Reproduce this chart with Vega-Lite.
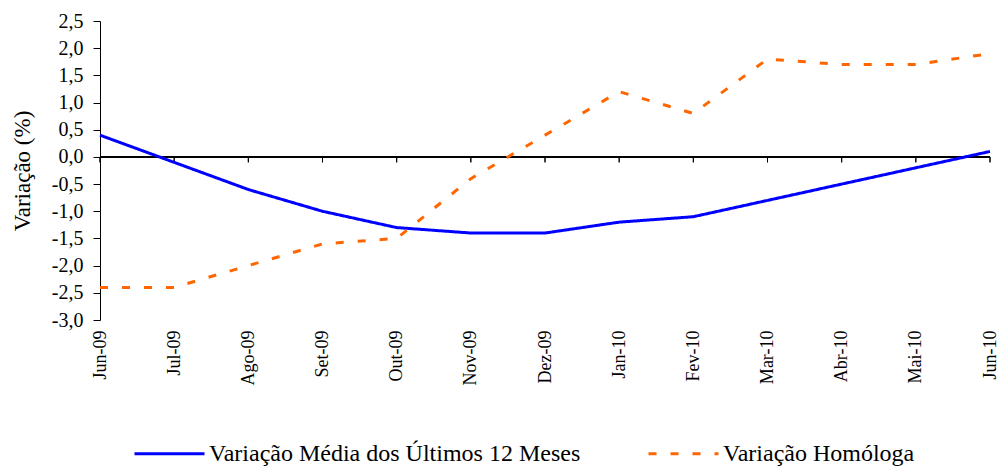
{
  "$schema": "https://vega.github.io/schema/vega-lite/v6.json",
  "width": 890,
  "height": 299,
  "autosize": {"type": "none"},
  "padding": {"left": 100, "top": 21, "right": 11, "bottom": 148},
  "background": "white",
  "config": {
    "font": "Liberation Serif",
    "view": {"stroke": null},
    "axisY": {
      "values": [-3, -2.5, -2, -1.5, -1, -0.5, 0, 0.5, 1, 1.5, 2, 2.5],
      "labelExpr": "replace(replace(format(datum.value, '.1f'), '.', ','), '\u2212', '-')",
      "grid": false,
      "domainColor": "black",
      "tickColor": "black",
      "tickSize": 7,
      "labelPadding": 10,
      "labelFont": "Liberation Serif",
      "labelFontSize": 20,
      "labelColor": "black",
      "titleFont": "Liberation Serif",
      "titleFontSize": 23,
      "titleFontWeight": "normal",
      "titleColor": "black",
      "titlePadding": 17
    },
    "axisX": {
      "domain": false,
      "ticks": false,
      "grid": false,
      "labelAngle": -90,
      "labelAlign": "right",
      "labelBaseline": "middle",
      "labelPadding": 10,
      "labelFont": "Liberation Serif",
      "labelFontSize": 18,
      "labelColor": "black",
      "title": null
    },
    "legend": {
      "orient": "none",
      "legendX": 33,
      "legendY": 396,
      "direction": "horizontal",
      "symbolType": "stroke",
      "symbolSize": 4900,
      "symbolStrokeWidth": 3,
      "labelFont": "Liberation Serif",
      "labelFontSize": 24,
      "labelColor": "black",
      "labelOffset": 3,
      "labelLimit": 500,
      "columnPadding": 61,
      "title": null
    }
  },
  "data": {
    "values": [
      {"mes": "Jun-09", "serie": "Variação Média dos Últimos 12 Meses", "valor": 0.4},
      {"mes": "Jul-09", "serie": "Variação Média dos Últimos 12 Meses", "valor": -0.1},
      {"mes": "Ago-09", "serie": "Variação Média dos Últimos 12 Meses", "valor": -0.6},
      {"mes": "Set-09", "serie": "Variação Média dos Últimos 12 Meses", "valor": -1.0},
      {"mes": "Out-09", "serie": "Variação Média dos Últimos 12 Meses", "valor": -1.3},
      {"mes": "Nov-09", "serie": "Variação Média dos Últimos 12 Meses", "valor": -1.4},
      {"mes": "Dez-09", "serie": "Variação Média dos Últimos 12 Meses", "valor": -1.4},
      {"mes": "Jan-10", "serie": "Variação Média dos Últimos 12 Meses", "valor": -1.2},
      {"mes": "Fev-10", "serie": "Variação Média dos Últimos 12 Meses", "valor": -1.1},
      {"mes": "Mar-10", "serie": "Variação Média dos Últimos 12 Meses", "valor": -0.8},
      {"mes": "Abr-10", "serie": "Variação Média dos Últimos 12 Meses", "valor": -0.5},
      {"mes": "Mai-10", "serie": "Variação Média dos Últimos 12 Meses", "valor": -0.2},
      {"mes": "Jun-10", "serie": "Variação Média dos Últimos 12 Meses", "valor": 0.1},
      {"mes": "Jun-09", "serie": "Variação Homóloga", "valor": -2.4},
      {"mes": "Jul-09", "serie": "Variação Homóloga", "valor": -2.4},
      {"mes": "Ago-09", "serie": "Variação Homóloga", "valor": -2.0},
      {"mes": "Set-09", "serie": "Variação Homóloga", "valor": -1.6},
      {"mes": "Out-09", "serie": "Variação Homóloga", "valor": -1.5},
      {"mes": "Nov-09", "serie": "Variação Homóloga", "valor": -0.4},
      {"mes": "Dez-09", "serie": "Variação Homóloga", "valor": 0.4},
      {"mes": "Jan-10", "serie": "Variação Homóloga", "valor": 1.2},
      {"mes": "Fev-10", "serie": "Variação Homóloga", "valor": 0.8},
      {"mes": "Mar-10", "serie": "Variação Homóloga", "valor": 1.8},
      {"mes": "Abr-10", "serie": "Variação Homóloga", "valor": 1.7},
      {"mes": "Mai-10", "serie": "Variação Homóloga", "valor": 1.7},
      {"mes": "Jun-10", "serie": "Variação Homóloga", "valor": 1.9}
    ]
  },
  "layer": [
    {
      "mark": {"type": "rule", "color": "black", "strokeWidth": 1},
      "encoding": {
        "y": {"datum": 0, "type": "quantitative", "scale": {"domain": [-3, 2.5], "nice": false, "zero": false}, "title": "Variação (%)"}
      }
    },
    {
      "mark": {"type": "rule", "color": "black", "strokeWidth": 1},
      "encoding": {
        "x": {"field": "mes", "type": "nominal", "sort": null, "scale": {"type": "point", "padding": 0}, "title": null},
        "y": {"datum": 0, "type": "quantitative", "scale": {"domain": [-3, 2.5], "nice": false, "zero": false}, "title": "Variação (%)"},
        "y2": {"datum": -0.1}
      }
    },
    {
      "mark": {"type": "line", "strokeWidth": 3, "strokeCap": "butt"},
      "encoding": {
        "x": {"field": "mes", "type": "nominal", "sort": null, "scale": {"type": "point", "padding": 0}, "title": null},
        "y": {"field": "valor", "type": "quantitative", "scale": {"domain": [-3, 2.5], "nice": false, "zero": false}, "title": "Variação (%)"},
        "color": {
          "field": "serie",
          "type": "nominal",
          "scale": {"domain": ["Variação Média dos Últimos 12 Meses", "Variação Homóloga"], "range": ["#0000FF", "#FF6600"]},
          "legend": {"title": null}
        },
        "strokeDash": {
          "field": "serie",
          "type": "nominal",
          "scale": {"domain": ["Variação Média dos Últimos 12 Meses", "Variação Homóloga"], "range": [[1, 0], [8, 14]]},
          "legend": {"title": null}
        }
      }
    }
  ]
}
